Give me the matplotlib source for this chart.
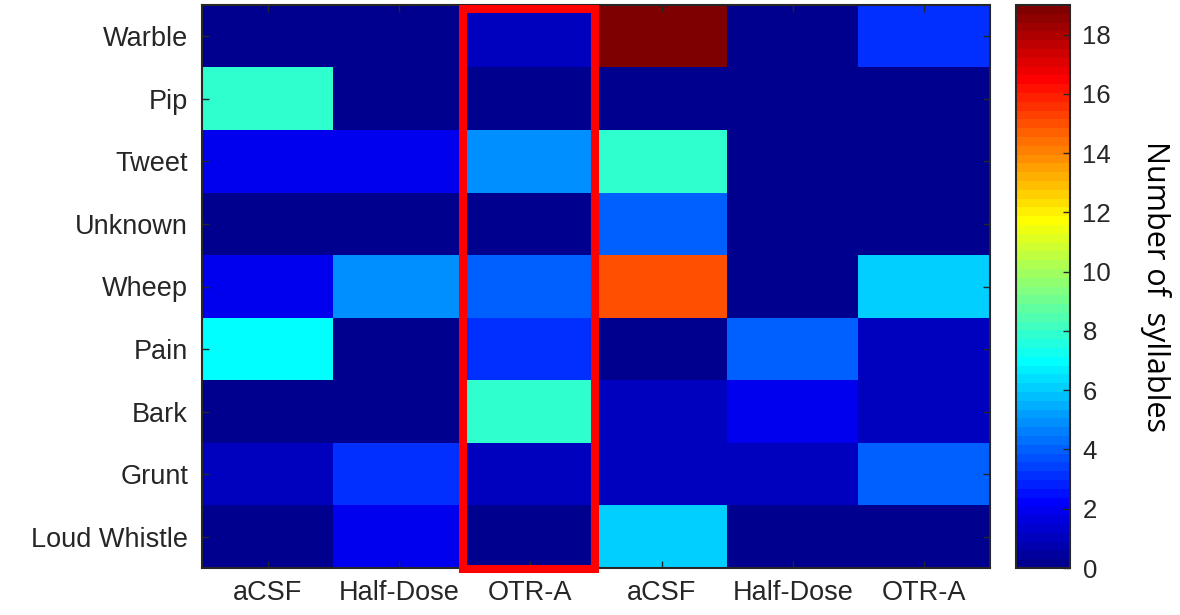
import numpy as np
import matplotlib
matplotlib.use("Agg")
import matplotlib.pyplot as plt
from matplotlib.colors import ListedColormap, Normalize
from matplotlib.patches import Rectangle

rows = ["Warble", "Pip", "Tweet", "Unknown", "Wheep", "Pain", "Bark", "Grunt", "Loud Whistle"]
cols = ["aCSF", "Half-Dose", "OTR-A", "aCSF", "Half-Dose", "OTR-A"]
warble = [0, 0, 1, 19, 0, 3]
pip = [8, 0, 0, 0, 0, 0]
tweet = [2, 2, 5, 8, 0, 0]
unknown = [0, 0, 0, 4, 0, 0]
wheep = [2, 5, 4, 15, 0, 6]
pain = [7, 0, 3, 0, 4, 1]
bark = [0, 0, 8, 1, 2, 1]
grunt = [1, 3, 1, 1, 1, 4]
loud_whistle = [0, 2, 0, 6, 0, 0]
cbar_ticks = [0, 2, 4, 6, 8, 10, 12, 14, 16, 18]
highlight_col = 2

data = np.array([warble, pip, tweet, unknown, wheep, pain, bark, grunt, loud_whistle], dtype=float)

# MATLAB-style jet(64)
def matlab_jet(m=64):
    n = int(np.ceil(m / 4))
    u = np.concatenate([np.arange(1, n + 1) / n, np.ones(n - 1), np.arange(n, 0, -1) / n])
    g = int(np.ceil(n / 2)) - (1 if m % 4 == 1 else 0) + np.arange(1, len(u) + 1)
    r = g + n
    b = g - n
    J = np.zeros((m, 3))
    for idx, ch in ((r, 0), (g, 1), (b, 2)):
        mask = (idx >= 1) & (idx <= m)
        J[idx[mask] - 1, ch] = u[mask]
    return ListedColormap(J)

cmap = matlab_jet(64)
norm = Normalize(vmin=0, vmax=19)

W, H = 1180, 615
plt.rcParams['font.family'] = ['Liberation Sans', 'DejaVu Sans']
fig = plt.figure(figsize=(W / 100, H / 100), dpi=100)
ax = fig.add_axes([202 / W, 1 - 568 / H, (990 - 202) / W, (568 - 5) / H])
im = ax.imshow(data, cmap=cmap, norm=norm, aspect='auto', interpolation='nearest')

ax.set_xticks(range(len(cols)))
ax.set_xticklabels(cols, fontsize=19.5, color='#262626')
ax.set_yticks(range(len(rows)))
ax.set_yticklabels(rows, fontsize=19.5, color='#262626')
ax.tick_params(direction='in', length=5, width=1, color='#262626',
               top=True, right=True)
ax.tick_params(axis='x', pad=9)
ax.tick_params(axis='y', pad=10)
for s in ax.spines.values():
    s.set_color('#262626')
    s.set_linewidth(1.5)

# red highlight box around the third column
rect = Rectangle((highlight_col - 0.51, -0.444), 1.006, len(rows) - 0.033,
                 fill=False, edgecolor='#ff0000', linewidth=5.8, clip_on=False,
                 zorder=5, joinstyle='miter')
ax.add_patch(rect)

cax = fig.add_axes([1016 / W, 1 - 568 / H, (1070 - 1016) / W, (568 - 5) / H])
cb = fig.colorbar(im, cax=cax, ticks=cbar_ticks)
cb.ax.tick_params(direction='in', length=5, width=1, labelsize=18.5, colors='#262626', pad=9)
cb.outline.set_edgecolor('#262626')
cb.outline.set_linewidth(1.5)
cb.set_label("Number of  syllables", rotation=270, fontsize=22, labelpad=43,
             family=['Open Sans', 'DejaVu Sans'], color='black')

fig.savefig("out.png", dpi=100)
